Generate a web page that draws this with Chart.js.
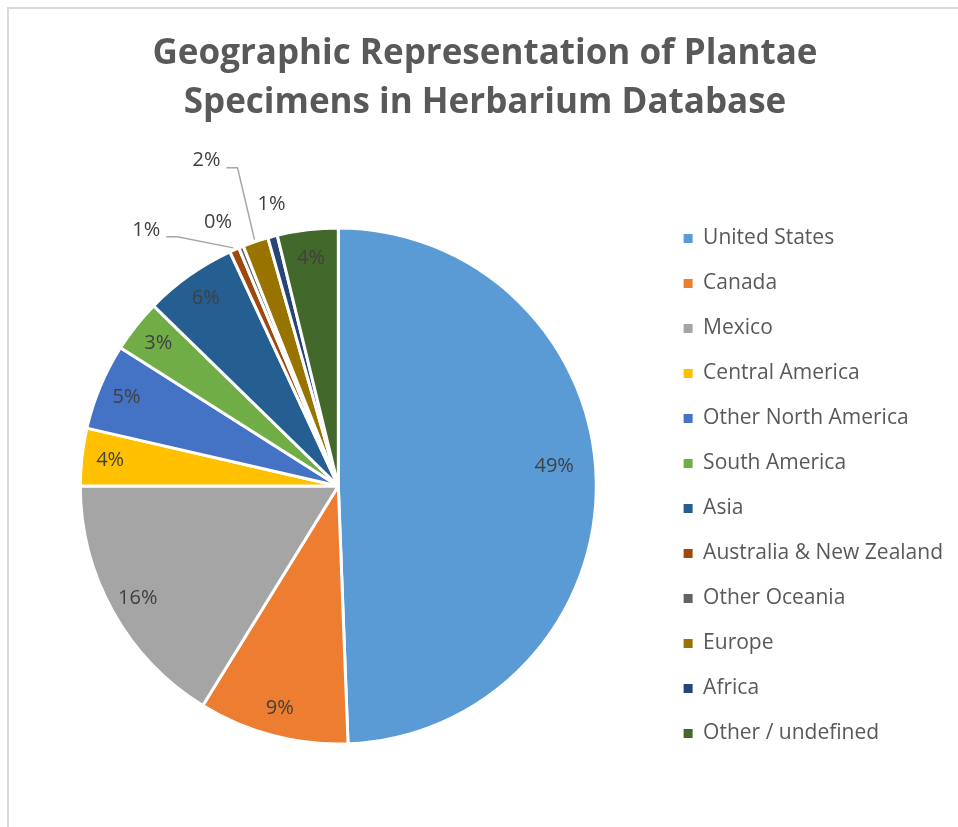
<!DOCTYPE html>
<html>
<head>
<meta charset="utf-8">
<script src="https://cdn.jsdelivr.net/npm/chart.js@4"></script>
<style>
  html, body { margin: 0; padding: 0; background: #fff; overflow: hidden; }
  #wrap { position: absolute; left: 0; top: 0; width: 958px; height: 827px; }
</style>
</head>
<body>
<div id="wrap"><canvas id="c" width="958" height="827"></canvas></div>
<script>
// ---- data ----
const categories = [
  'United States', 'Canada', 'Mexico', 'Central America', 'Other North America',
  'South America', 'Asia', 'Australia & New Zealand', 'Other Oceania', 'Europe',
  'Africa', 'Other / undefined'
];
const shares = [49.4, 9.4, 16.2, 3.6, 5.4, 3.3, 5.8, 0.6, 0.3, 1.6, 0.6, 3.8];
const sliceColors = [
  '#5B9BD5', '#ED7D31', '#A5A5A5', '#FFC000', '#4472C4', '#70AD47',
  '#255E91', '#9E480E', '#636363', '#997300', '#264478', '#43682B'
];
const titleLines = ['Geographic Representation of Plantae', 'Specimens in Herbarium Database'];

// ---- label placement styling ----
const insideRadiusFactor = 0.89;
const insideRadiusOverride = { 0: 0.84 };
const insideAngleShift = { 0: -0.07 };
const outsideLabels = {
  7: { dx: -88, dy: -20, leader: true },
  8: { dx: -23, dy: -25, leader: false },
  9: { dx: -49, dy: -81, leader: true },
  10: { dx: -1, dy: -32, leader: false }
};

const FONT = "'Open Sans', 'DejaVu Sans', sans-serif";

const framePlugin = {
  id: 'frame',
  beforeDraw(chart) {
    const ctx = chart.ctx;
    ctx.save();
    ctx.fillStyle = '#fff';
    ctx.fillRect(0, 0, chart.width, chart.height);
    ctx.strokeStyle = '#D9D9D9';
    ctx.lineWidth = 2;
    ctx.beginPath();
    ctx.moveTo(8, chart.height);
    ctx.lineTo(8, 8);
    ctx.lineTo(chart.width, 8);
    ctx.stroke();
    ctx.restore();
  }
};

const pctLabelPlugin = {
  id: 'pctLabels',
  afterDatasetsDraw(chart) {
    const ctx = chart.ctx;
    const meta = chart.getDatasetMeta(0);
    const data = chart.data.datasets[0].data;
    const total = data.reduce((a, b) => a + b, 0);
    ctx.save();
    ctx.font = '20px ' + FONT;
    ctx.fillStyle = '#404040';
    ctx.textAlign = 'center';
    ctx.textBaseline = 'middle';
    meta.data.forEach((arc, i) => {
      const p = arc.getProps(['x', 'y', 'startAngle', 'endAngle', 'outerRadius'], true);
      const mid = (p.startAngle + p.endAngle) / 2;
      const txt = Math.round(data[i] / total * 100) + '%';
      const out = outsideLabels[i];
      if (out) {
        const ex = p.x + Math.cos(mid) * p.outerRadius;
        const ey = p.y + Math.sin(mid) * p.outerRadius;
        const lx = ex + out.dx, ly = ey + out.dy;
        if (out.leader) {
          const hw = ctx.measureText(txt).width / 2;
          const sx = lx + hw + 6, sy = ly + 7;
          ctx.save();
          ctx.strokeStyle = '#A6A6A6';
          ctx.lineWidth = 1.5;
          ctx.beginPath();
          ctx.moveTo(sx, sy);
          ctx.lineTo(sx + 11, sy);
          ctx.lineTo(ex - 1, ey - 2);
          ctx.stroke();
          ctx.restore();
        }
        ctx.fillText(txt, lx, ly);
      } else {
        const f = insideRadiusOverride[i] !== undefined ? insideRadiusOverride[i] : insideRadiusFactor;
        const a = mid + (insideAngleShift[i] || 0);
        ctx.fillText(txt, p.x + Math.cos(a) * p.outerRadius * f, p.y + Math.sin(a) * p.outerRadius * f);
      }
    });
    ctx.restore();
  }
};

new Chart(document.getElementById('c'), {
  type: 'pie',
  data: {
    labels: categories,
    datasets: [{
      data: shares,
      backgroundColor: sliceColors,
      borderColor: '#ffffff',
      borderWidth: 3,
      radius: 258
    }]
  },
  options: {
    responsive: false,
    animation: false,
    layout: { padding: { left: 17, right: 5, top: 0, bottom: 53 } },
    plugins: {
      title: {
        display: true,
        text: titleLines,
        color: '#595959',
        font: { family: FONT, size: 35, weight: 'bold', lineHeight: 1.4 },
        padding: { top: 30, bottom: 70 }
      },
      legend: {
        position: 'right',
        fullSize: false,
        labels: {
          color: '#595959',
          font: { family: FONT, size: 21 },
          boxWidth: 9,
          boxHeight: 9,
          padding: 24,
          generateLabels(chart) {
            const items = Chart.overrides.pie.plugins.legend.labels.generateLabels(chart);
            items.forEach(it => { it.lineWidth = 0; it.strokeStyle = it.fillStyle; });
            return items;
          }
        }
      },
      tooltip: { enabled: false }
    }
  },
  plugins: [framePlugin, pctLabelPlugin]
});
</script>
</body>
</html>
